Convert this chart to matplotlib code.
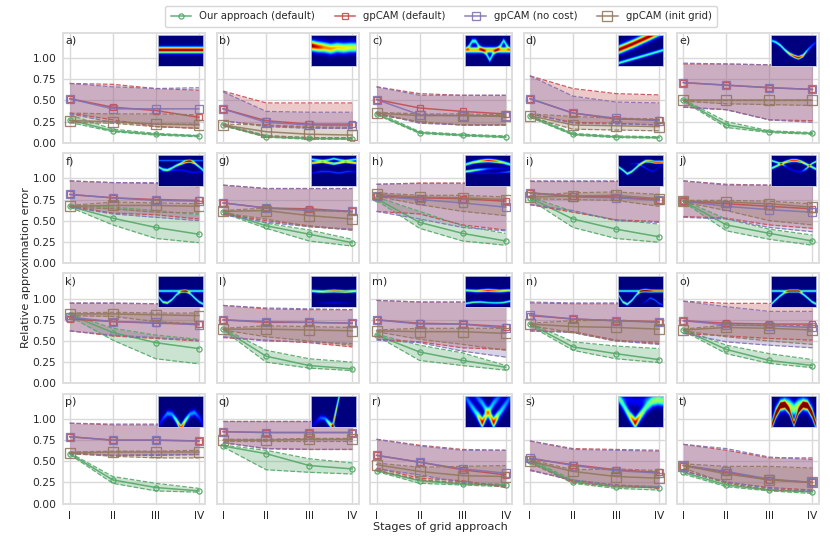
import matplotlib
matplotlib.use('Agg')
import matplotlib.pyplot as plt
import numpy as np

labels = ['a)', 'b)', 'c)', 'd)', 'e)', 'f)', 'g)', 'h)', 'i)', 'j)',
          'k)', 'l)', 'm)', 'n)', 'o)', 'p)', 'q)', 'r)', 's)', 't)']
stages = ['I', 'II', 'III', 'IV']
names = ['Our approach (default)', 'gpCAM (default)', 'gpCAM (no cost)', 'gpCAM (init grid)']

# one row per panel, a) to t)
our_mean = [
    [.27, .14, .10, .08], [.21, .07, .05, .045], [.34, .12, .09, .07], [.31, .10, .07, .06], [.50, .21, .13, .11],
    [.67, .53, .42, .34], [.60, .44, .34, .24], [.76, .48, .35, .26], [.77, .52, .40, .31], [.73, .45, .35, .26],
    [.81, .60, .48, .41], [.64, .32, .21, .17], [.57, .37, .27, .19], [.70, .43, .35, .28], [.63, .40, .27, .21],
    [.59, .28, .19, .15], [.68, .59, .45, .41], [.39, .27, .23, .22], [.50, .26, .20, .19], [.37, .22, .16, .14]]
our_lo = [
    [.24, .13, .09, .07], [.20, .065, .04, .04], [.33, .11, .08, .06], [.30, .09, .06, .055], [.49, .18, .12, .10],
    [.66, .45, .29, .24], [.59, .41, .26, .20], [.74, .41, .26, .21], [.75, .42, .29, .245], [.72, .38, .28, .21],
    [.79, .51, .29, .23], [.63, .25, .18, .15], [.56, .27, .21, .155], [.68, .39, .29, .245], [.62, .35, .235, .185],
    [.58, .24, .15, .135], [.67, .40, .37, .35], [.38, .24, .22, .20], [.49, .24, .18, .16], [.35, .20, .15, .12]]
our_hi = [
    [.33, .16, .11, .085], [.22, .085, .06, .05], [.36, .13, .10, .08], [.33, .11, .08, .07], [.51, .25, .14, .12],
    [.68, .66, .62, .57], [.61, .47, .39, .28], [.78, .61, .44, .35], [.78, .61, .51, .46], [.74, .52, .40, .33],
    [.82, .65, .57, .52], [.65, .39, .29, .25], [.58, .45, .36, .21], [.71, .49, .44, .41], [.64, .45, .35, .28],
    [.60, .32, .24, .18], [.69, .63, .53, .48], [.40, .28, .25, .23], [.52, .28, .21, .20], [.39, .24, .17, .15]]

default_mean = [
    [.52, .42, .38, .30], [.40, .26, .22, .22], [.51, .41, .37, .34], [.52, .35, .28, .27], [.71, .68, .65, .63],
    [.81, .77, .75, .74], [.71, .65, .64, .61], [.79, .77, .76, .73], [.83, .79, .78, .75], [.73, .70, .67, .64],
    [.76, .73, .71, .70], [.75, .72, .72, .71], [.75, .71, .70, .67], [.80, .76, .74, .73], [.74, .71, .70, .70],
    [.79, .75, .75, .74], [.85, .84, .84, .84], [.57, .49, .40, .34], [.53, .46, .40, .37], [.45, .37, .28, .25]]
default_lo = [
    [.35, .27, .19, .17], [.26, .20, .18, .17], [.35, .24, .21, .21], [.34, .24, .23, .21], [.42, .39, .27, .26],
    [.67, .59, .57, .52], [.58, .50, .44, .39], [.61, .58, .45, .39], [.69, .60, .51, .49], [.55, .53, .45, .41],
    [.62, .56, .53, .50], [.54, .51, .48, .43], [.52, .49, .42, .40], [.62, .61, .51, .47], [.59, .56, .53, .51],
    [.60, .57, .57, .58], [.72, .65, .64, .64], [.42, .30, .27, .19], [.40, .27, .22, .18], [.39, .25, .19, .16]]
default_hi = [
    [.70, .69, .64, .62], [.61, .47, .47, .47], [.66, .58, .56, .56], [.79, .64, .58, .565], [.93, .93, .92, .92],
    [.97, .95, .94, .90], [.92, .88, .88, .88], [.93, .945, .945, .945], [.97, .97, .97, .97], [.97, .93, .92, .92],
    [.945, .945, .94, .91], [.92, .88, .87, .87], [.98, .96, .96, .95], [.95, .94, .94, .93], [.97, .945, .945, .945],
    [.95, .93, .93, .92], [.98, .98, .98, .98], [.76, .69, .64, .63], [.74, .65, .64, .63], [.70, .63, .54, .54]]

nocost_mean = [
    [.52, .40, .40, .40], [.40, .24, .21, .20], [.51, .33, .32, .32], [.52, .35, .29, .26], [.71, .68, .65, .63],
    [.81, .77, .74, .73], [.71, .65, .62, .61], [.79, .75, .71, .66], [.83, .78, .77, .74], [.73, .67, .63, .60],
    [.78, .73, .72, .69], [.75, .73, .72, .71], [.75, .70, .70, .65], [.81, .76, .74, .72], [.74, .69, .68, .66],
    [.79, .75, .75, .74], [.85, .84, .84, .84], [.57, .49, .41, .36], [.54, .45, .39, .36], [.45, .38, .29, .25]]
nocost_lo = [
    [.34, .24, .22, .22], [.26, .19, .17, .17], [.35, .23, .21, .21], [.34, .23, .22, .21], [.42, .39, .27, .24],
    [.66, .58, .54, .50], [.57, .48, .43, .40], [.61, .52, .42, .38], [.69, .62, .50, .48], [.54, .52, .42, .37],
    [.62, .57, .54, .51], [.55, .50, .49, .47], [.51, .48, .38, .31], [.62, .60, .50, .46], [.59, .49, .45, .42],
    [.59, .57, .58, .58], [.72, .65, .64, .64], [.41, .34, .25, .21], [.39, .28, .22, .20], [.38, .26, .18, .15]]
nocost_hi = [
    [.70, .66, .64, .65], [.60, .37, .36, .36], [.66, .56, .56, .56], [.79, .55, .48, .47], [.94, .93, .92, .92],
    [.97, .95, .95, .95], [.92, .88, .88, .88], [.93, .94, .94, .94], [.97, .97, .97, .96], [.97, .92, .92, .92],
    [.95, .95, .94, .94], [.92, .89, .88, .87], [.98, .96, .96, .96], [.96, .95, .95, .94], [.97, .905, .85, .85],
    [.95, .94, .94, .93], [.98, .98, .98, .98], [.76, .68, .63, .63], [.74, .64, .63, .62], [.70, .65, .55, .52]]

grid_mean = [
    [.26, .25, .22, .21], [.21, .13, .10, .09], [.35, .32, .32, .31], [.32, .21, .20, .19], [.50, .50, .50, .50],
    [.67, .68, .68, .67], [.61, .62, .56, .52], [.81, .78, .77, .75], [.78, .79, .80, .76], [.73, .72, .70, .66],
    [.82, .82, .81, .80], [.64, .64, .63, .62], [.62, .61, .61, .59], [.70, .67, .66, .64], [.63, .66, .65, .63],
    [.60, .61, .61, .61], [.75, .75, .76, .76], [.46, .38, .33, .32], [.50, .38, .32, .30], [.45, .35, .28, .25]]
grid_lo = [
    [.24, .23, .19, .17], [.20, .08, .06, .06], [.33, .25, .21, .21], [.30, .16, .15, .14], [.49, .46, .45, .44],
    [.66, .64, .60, .59], [.59, .52, .43, .39], [.79, .69, .61, .56], [.76, .75, .74, .67], [.72, .62, .50, .45],
    [.80, .79, .73, .70], [.63, .55, .50, .45], [.61, .52, .46, .39], [.68, .60, .50, .49], [.62, .55, .50, .46],
    [.59, .56, .54, .54], [.74, .74, .74, .74], [.39, .28, .24, .21], [.48, .25, .20, .19], [.42, .24, .16, .14]]
grid_hi = [
    [.35, .34, .34, .33], [.22, .21, .19, .18], [.36, .34, .34, .33], [.34, .31, .29, .28], [.51, .51, .51, .51],
    [.68, .72, .71, .70], [.62, .65, .63, .60], [.83, .80, .80, .78], [.80, .83, .84, .81], [.74, .74, .73, .70],
    [.83, .84, .83, .83], [.65, .68, .67, .66], [.63, .65, .65, .65], [.71, .74, .75, .72], [.64, .69, .69, .68],
    [.61, .62, .62, .63], [.76, .76, .77, .77], [.48, .43, .44, .45], [.52, .40, .41, .39], [.47, .44, .44, .42]]

# thumbnails: ridges as (centre heights from the top, width, strength), both lists evenly spaced left to right
thumbs = [
    [([.5, .5], .065, [1, 1])],
    [([.36, .40, .42, .46, .42, .44, .42, .42], .105, [1.02, .92, .78, .76, .68, .68, .62, .6])],
    [([.5, .5], .06, [.72, .72]),
     ([.5, .4, .22, .22, .4, .5, .62, .82, .62, .5, .38, .2, .38, .5][:14], .055,
      [0, .42, .42, .42, .42, .3, .42, .42, .42, .3, .42, .42, .42, 0])],
    [([.5, .3, .08, -.15], .085, [1, 1, 1, 1]), ([.92, .78, .64, .5], .035, [.45, .45, .45, .45])],
    [([.2, .25, .35, .5, .62, .7, .75, .68, .5, .35, .25], .035, [.35, .42, .48, .52, .7, .9, 1, .75, .32, .2, .15])],
    [([.40, .48, .50, .44, .36, .30, .24, .22, .28, .40, .52], .03, [.5, .5, .5, .5, .55, .7, .9, .95, .7, .5, .5]),
     ([.2, .2, .2], .02, [.25, .25, .25]), ([.55, .52, .5, .58, .55], .02, [.1, .15, .15, .15, .1])],
    [([.16, .18, .2, .18, .14, .18, .2, .18, .16], .025, [.5, .45, .4, .45, .45, .45, .4, .45, .5]),
     ([.28, .26, .24, .27, .3, .27, .24, .26, .28], .027, [.8, .7, .65, .7, .75, .65, .65, .7, .7]),
     ([.6, .55, .55, .6, .55, .55], .02, [.1, .2, .2, .2, .2, .1])],
    [([.33, .26, .22, .2, .22, .26, .33], .035, [.5, .55, .7, .95, .85, .55, .5]),
     ([.55, .5, .46, .45, .45], .028, [.55, .5, .2, .1, .05]),
     ([.55, .6, .6, .55], .02, [.1, .1, .1, .3])],
    [([.40, .5, .62, .55, .42, .3, .22, .22, .25, .25, .25], .03, [.5, .5, .55, .55, .55, .6, .75, .85, .9, .9, .85]),
     ([.3, .3, .3, .3, .3, .4, .5, .55, .4, .3], .018, [0, 0, 0, .1, .2, .2, .15, .15, .1, 0])],
    [([.45, .38, .3, .24, .2, .2, .24, .32, .4, .48], .03, [.55, .55, .6, .75, .9, .9, .75, .6, .55, .55]),
     ([.2, .25, .3, .4, .5, .55, .55, .45, .3, .22], .025, [.55, .5, .45, .15, .1, .1, .15, .45, .5, .55])],
    [([.5, .5], .028, [.45, .45]), ([.68, .85, .88, .78, .62, .52, .5, .58, .72, .85, .92], .03,
                                     [.5, .55, .55, .5, .5, .5, .75, .5, .5, .5, .5])],
    [([.5, .52, .5, .52, .5], .03, [.55, .7, .85, .8, .6]), ([.88, .88, .88], .02, [0, .12, 0])],
    [([.48, .5, .48, .5, .48], .03, [.5, .6, .95, .75, .55]), ([.9, .86, .85, .87, .88, .87, .82], .025,
                                                                 [.5, .5, .45, .4, .4, .45, .5])],
    [([.5, .5], .026, [.45, .45]), ([.62, .85, .92, .8, .62, .5, .48, .5, .5, .5, .5], .03,
                                     [.5, .55, .55, .5, .5, .7, .85, .6, .4, .4, .4]),
     ([.9, .9, .9, .9, .9, .9, .85, .72, .78, .9, .95], .02, [0, 0, 0, 0, 0, 0, .15, .25, .25, .25, .15])],
    [([.92, .78, .65, .55, .5, .5, .5, .6, .72, .85, .92], .03, [.5, .5, .5, .5, .7, .85, .7, .5, .5, .5, .5]),
     ([.5, .5, .5, .5, .5, .5, .5], .026, [.5, .5, .45, .2, .45, .5, .5])],
    [([1.0, .75, .58, .6, .8, 1.05, .8, .6, .55, .7, .95], .07, [.1, .18, .28, .28, .5, 1, .55, .28, .28, .18, .1])],
    [([1.0, .85, .72, .74, .9, 1.05, 1.2, 1.2, 1.2, 1.2, 1.2], .06, [.05, .1, .2, .25, .6, .9, 0, 0, 0, 0, 0]),
     ([3.5, 3, 2.5, 2, 1.5, .8, .13, -.53, -1.2, -1.9, -2.5], .09, [0, 0, 0, 0, .9, .8, .5, .5, .5, .5, .5])],
    [([.05, .32, .58, .87, .55, .25, .05, -.1, -.2], .11, [.2, .3, .4, 1, .4, .32, .2, .1, .1]),
     ([-.2, -.1, .05, .25, .55, .87, .58, .32, .05], .11, [.1, .1, .2, .32, .4, 1, .4, .3, .2])],
    [([.05, .35, .65, .88, .62, .38, .22, .16, .2], .11, [.3, .4, .6, 1, .6, .42, .35, .34, .32]),
     ([.1, .12, .15, .2, .2, .15, .12, .12, .14], .13, [.15, .15, .12, .1, .12, .2, .22, .22, .22])],
    [([1.0, .6, .33, .3, .5, .9, .5, .3, .33, .6, 1.0], .07, [.7, 1.05, 1.05, 1.05, 1.05, 1.05, 1.05, 1.05, 1.05, 1.05, .7]),
     ([1.0, .55, .32, .27, .32, .45, .32, .27, .32, .55, 1.0], .14, [.3, .5, .55, .55, .55, .55, .55, .55, .55, .5, .3])],
]

colors = ['#55A868', '#C44E52', '#8172B3', '#937860']
markers = ['o', 's', 's', 's']
msizes = [3.7, 4.0, 5.2, 6.6]


def draw_thumb(ridges):
    h, w = 62, 90
    xx = np.linspace(0, 1, w)
    yy = np.linspace(0, 1, h)
    img = np.zeros((h, w))
    for ys, width, amp in ridges:
        cy = np.interp(xx, np.linspace(0, 1, len(ys)), ys)
        a = np.interp(xx, np.linspace(0, 1, len(amp)), amp)
        for col in range(w):
            img[:, col] += a[col] * np.exp(-0.5 * ((yy - cy[col]) / width) ** 2)
    return img


plt.rcParams['font.size'] = 7.3
plt.rcParams['text.color'] = '.15'

W, H = 830, 554
fig = plt.figure(figsize=(W / 100, H / 100), dpi=100)

series = [(our_mean, our_lo, our_hi), (default_mean, default_lo, default_hi),
          (nocost_mean, nocost_lo, nocost_hi), (grid_mean, grid_lo, grid_hi)]
x = np.arange(4)
handles = []

for i in range(20):
    row, col = i // 5, i % 5
    left = 63.3 + col * 153.4
    bottom = 142.7 + row * 120.3
    ax = fig.add_axes([left / W, 1 - bottom / H, 142 / W, 110 / H])
    ax.set_axisbelow(True)
    ax.grid(True, color='#d9d9d9', lw=1.0)
    for s in ax.spines.values():
        s.set_color('#dedede')
        s.set_linewidth(1.4)
    handles = []
    for k, (mean, lo, hi) in enumerate(series):
        c = colors[k]
        ax.fill_between(x, lo[i], hi[i], color=c, alpha=0.3, lw=0)
        ax.plot(x, lo[i], '--', color=c, lw=0.9, alpha=0.9)
        ax.plot(x, hi[i], '--', color=c, lw=0.9, alpha=0.9)
        l, = ax.plot(x, mean[i], '-', color=c, lw=1.1, marker=markers[k], ms=msizes[k],
                     mfc='none', mew=0.95, label=names[k], alpha=0.9)
        handles.append(l)
    ax.set_xlim(-0.15, 3.15)
    ax.set_ylim(0, 1.3)
    ax.set_xticks(x)
    ax.set_yticks([0, .25, .5, .75, 1.0])
    ax.set_xticklabels(stages if row == 3 else [])
    ax.set_yticklabels(['0.00', '0.25', '0.50', '0.75', '1.00'] if col == 0 else [])
    ax.tick_params(length=0, labelsize=7.7, colors='.15', pad=5)
    ax.text(0.015, 0.925, labels[i], transform=ax.transAxes, fontsize=8, va='center', ha='left')

    inset = ax.inset_axes([0.665, 0.697, 0.317, 0.282], zorder=5)
    inset.imshow(draw_thumb(thumbs[i]), cmap='jet', vmin=0, vmax=1, aspect='auto', interpolation='bilinear')
    inset.set_xticks([])
    inset.set_yticks([])
    for s in inset.spines.values():
        s.set_color('#c4c8de')
        s.set_linewidth(0.6)

fig.legend(handles=handles, loc='upper center', bbox_to_anchor=(441.2 / W, 1 - 0.5 / H), ncol=4,
           fontsize=7.3, columnspacing=1.95, borderpad=0.55)
fig.text(440 / W, 1 - 527 / H, 'Stages of grid approach', ha='center', va='center', fontsize=8.1)
fig.text(26 / W, 1 - 268 / H, 'Relative approximation error', rotation=90, ha='center', va='center', fontsize=8.1)

fig.savefig('out.png', dpi=100)
